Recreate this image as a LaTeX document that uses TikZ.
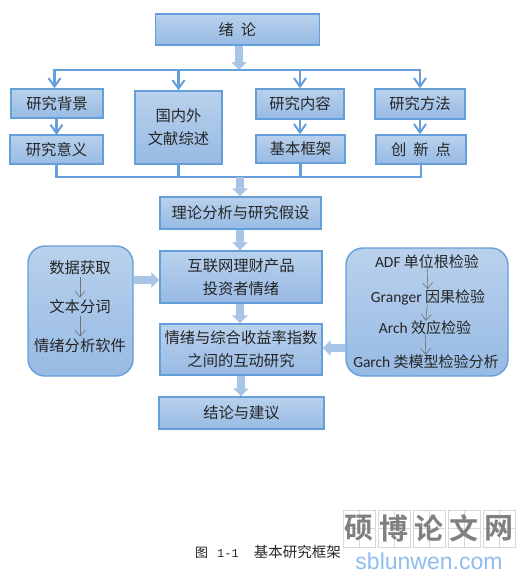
\documentclass[tikz,border=0pt]{standalone}
\usepackage{fontspec}
\setmainfont{Carlito}
\newfontfamily\cjk{Noto Sans CJK SC}
\newfontfamily\cjkb{Noto Sans CJK SC Bold}
\newfontfamily\capmono{Liberation Mono}
\newfontfamily\urlfont{Liberation Sans}
\usepackage{tikz}
\usetikzlibrary{arrows.meta,calc}
\definecolor{edgeblue}{HTML}{649FD9}
\definecolor{topblue}{HTML}{B9D1EC}
\definecolor{botblue}{HTML}{97BAE4}
\definecolor{blockblue}{HTML}{A8C4E7}
\definecolor{txt}{HTML}{262626}
\definecolor{wmgrey}{HTML}{808080}
\definecolor{wmline}{HTML}{D8D8D8}
\definecolor{wmblue}{HTML}{8FBDEE}
\tikzset{
  x=1pt,y=-1pt,
  base/.style={draw=edgeblue,line width=1.4pt,top color=topblue,bottom color=botblue,
    text=txt,align=center,inner sep=0pt,font=\cjk\fontsize{15.3}{23}\selectfont},
  sq/.style={base},
  rnd/.style={base,rounded corners=17pt},
  inner/.style={text=txt,inner sep=0pt,font=\cjk\fontsize{15.3}{18}\selectfont},
  innerr/.style={inner,font=\cjk\fontsize{15}{18}\selectfont},
  conn/.style={draw=edgeblue,line width=2.2pt},
  connarrow/.style={conn,-{Straight Barb[length=8.5pt,width=12pt,line width=2pt]}},
  block/.style={draw=blockblue,line width=7.5pt,-{Triangle[length=8pt,width=15pt]}},
  thin/.style={draw=black!55,line width=.6pt,shorten <=2pt,shorten >=2pt,-{Straight Barb[length=6pt,width=10pt,line width=.6pt]}},
  wmbox/.style={draw=wmline,line width=.7pt,minimum width=32pt,minimum height=37pt,inner sep=0pt},
  wmtext/.style={text=wmgrey,inner sep=0pt,font=\cjkb\fontsize{29}{29}\selectfont},
}
\newcommand{\bx}[7]{\node[#1,minimum width=#4pt-#2pt,minimum height=#5pt-#3pt] (#6) at ({(#2+#4)/2},{(#3+#5)/2}) {#7};}
\newcommand{\lat}[1]{{\fontsize{15.5}{18}\selectfont\rmfamily #1}}
\begin{document}
\begin{tikzpicture}
\useasboundingbox (0,0) rectangle (532,581);
\fill[white] (0,0) rectangle (532,581);
% boxes
\bx{sq}{155.5}{14}{319.5}{45}{intro}{绪\hspace{7pt}论}
\bx{sq}{11}{89}{103}{118}{bg}{研究背景}
\bx{sq}{10}{135}{103}{164}{sig}{研究意义}
\bx{sq}{135}{91}{222}{164}{lit}{国内外\\文献综述}
\bx{sq}{256}{89}{344}{119}{cont}{研究内容}
\bx{sq}{256}{135}{345}{163}{frame}{基本框架}
\bx{sq}{375}{89}{465}{119}{meth}{研究方法}
\bx{sq}{376}{135}{466}{164}{innov}{创\hspace{7pt}新\hspace{7pt}点}
\bx{sq}{160}{197}{321}{229}{theory}{理论分析与研究假设}
\bx{sq}{160}{251}{322}{303}{senti}{互联网理财产品\\投资者情绪}
\bx{sq}{160}{324}{322}{375}{inter}{情绪与综合收益率指数\\之间的互动研究}
\bx{sq}{159}{397}{324}{429}{concl}{结论与建议}
\bx{rnd}{28}{246}{133}{376}{left}{}
\bx{rnd}{346}{248}{508}{376}{right}{}
% inner left
\node[inner] (l1) at (80,268) {数据获取};
\node[inner] (l2) at (80,307) {文本分词};
\node[inner] (l3) at (80,346) {情绪分析软件};
\draw[thin] (l1) -- (l2);
\draw[thin] (l2) -- (l3);
% inner right
\node[innerr] (r1) at (427,262) {\lat{ADF} 单位根检验};
\node[innerr] (r2) at (428,297) {\lat{Granger} 因果检验};
\node[innerr] (r3) at (425,328) {\lat{Arch} 效应检验};
\node[innerr] (r4) at (426,362) {\lat{Garch} 类模型检验分析};
\draw[thin,shorten <=0pt,shorten >=0pt] (r1) -- (r2);
\draw[thin,shorten <=0pt,shorten >=0pt] (r2) -- (r3);
\draw[thin,shorten <=0pt,shorten >=0pt] (r3) -- (r4);
% buses
\coordinate (topbus) at (239,70);
\coordinate (botbus) at (240,177);
\draw[block] (intro.south -| topbus) -- (topbus);
\draw[connarrow] (topbus) -| ([xshift=-2.5pt]bg.north);
\draw[connarrow] (topbus) -| (lit.north);
\draw[connarrow] (topbus) -| (cont.north);
\draw[connarrow] (topbus) -| (meth.north);
\draw[connarrow] ([xshift=-.5pt]bg.south) -- ([xshift=-.5pt,yshift=-.6pt]sig.north -| bg.south);
\draw[connarrow] (cont.south) -- (frame.north -| cont.south);
\draw[connarrow] (meth.south) -- (innov.north -| meth.south);
\draw[conn] (sig.south) |- (botbus);
\draw[conn] (lit.south) |- (botbus);
\draw[conn] (frame.south) |- (botbus);
\draw[conn] (innov.south) |- (botbus);
\draw[block] (botbus) -- (theory.north -| botbus);
\draw[block] (theory.south -| botbus) -- (senti.north -| botbus);
\draw[block] (senti.south -| botbus) -- (inter.north -| botbus);
\draw[block] ([xshift=1pt]inter.south -| botbus) -- ([xshift=1pt]concl.north -| botbus);
\draw[block] (left.east |- 0,280) -- (senti.west |- 0,280);
\draw[block] (right.west |- 0,348) -- (inter.east |- 0,348);
% caption
\node[inner sep=0pt,anchor=west,text=black!85] (cap) at (195,552)
  {\cjk\fontsize{13}{14}\selectfont 图\hspace{9pt}{\capmono\fontsize{12}{14}\selectfont 1-1}\hspace{15pt}{\fontsize{14.5}{14}\selectfont 基本研究框架}};
% watermark
\foreach \n/\c/\t in {w1/359/硕,w2/394/博,w3/429/论,w4/464/文,w5/499/网}{
  \node[wmbox] (\n) at (\c,528.5) {};
  \draw[wmline,line width=.4pt] (\n.north) -- (\n.south) (\n.west) -- (\n.east);
  \node[wmtext] at (\c,528.5) {\t};
}
\node[text=wmblue,inner sep=0pt,font=\urlfont\fontsize{23}{23}\selectfont] (url) at (429,561.5) {sblunwen.com};
\end{tikzpicture}
\end{document}
